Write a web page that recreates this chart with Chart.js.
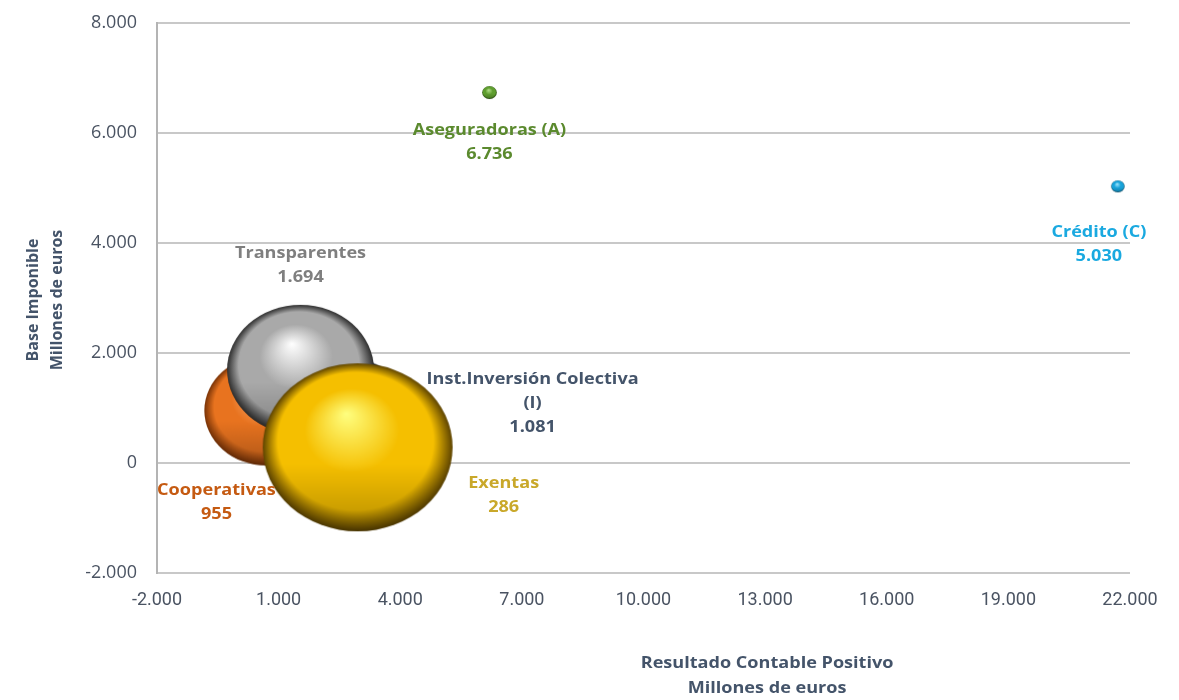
<!DOCTYPE html>
<html>
<head>
<meta charset="utf-8">
<script src="https://cdn.jsdelivr.net/npm/chart.js@4"></script>
<style>
  html, body { margin: 0; padding: 0; background: #fff; }
  #wrap { width: 1179px; height: 700px; }
</style>
</head>
<body>
<div id="wrap"><canvas id="burbujas" width="1179" height="700"></canvas></div>
<script>
// Datos
var categorias = ['Aseguradoras (A)', 'Crédito (C)', 'Inst.Inversión Colectiva (I)', 'Cooperativas', 'Transparentes', 'Exentas'];
var etiquetas = [['Aseguradoras (A)'], ['Crédito (C)'], ['Inst.Inversión Colectiva', '(I)'], ['Cooperativas'], ['Transparentes'], ['Exentas']];
var resultadoContable = [6200, 21700, 2800, 700, 1540, 2950];
var baseImponible = [6736, 5030, 1081, 955, 1694, 286];
var tamano = [6.5, 6, 45, 55, 65, 84];
var ticksX = [-2000, 1000, 4000, 7000, 10000, 13000, 16000, 19000, 22000];
var ticksY = [-2000, 0, 2000, 4000, 6000, 8000];

// Estilo
var colorTexto = ['#5b8a2e', '#1aa9e0', '#44546a', '#c55a11', '#7f7f7f', '#c9a82a'];
var colorEsfera = [
  ['#b5e08a', '#5f9e2f', '#2c5410'],
  ['#a5e8ff', '#17a3da', '#04506f'],
  ['#8797ad', '#44546a', '#1e2633'],
  ['#fbb783', '#e8731f', '#7a3306'],
  ['#ffffff', '#a9a9a9', '#2e2e2e'],
  ['#ffff80', '#f5bf00', '#5e4400']
];
var estirar = 1.13; // la imagen original está algo ensanchada
// desplazamiento de la primera línea de la etiqueta respecto al centro de la burbuja
var offX = [0, -19, 181, -50, 0, 146];
var offY = [38, 46, -24, 80, -116, 36];

function miles(v) {
  var neg = v < 0;
  var s = String(Math.abs(v)).replace(/\B(?=(\d{3})+(?!\d))/g, '.');
  return (neg ? '-' : '') + s;
}

// esfera con brillo, como imagen para pointStyle
function esfera(i) {
  var r = tamano[i];
  var rx = r * estirar;
  var cv = document.createElement('canvas');
  cv.width = Math.ceil(rx * 2) + 2;
  cv.height = Math.ceil(r * 2) + 2;
  var c = cv.getContext('2d');
  c.translate(cv.width / 2, cv.height / 2);
  c.scale(estirar, 1);
  var g = c.createRadialGradient(-0.12 * r, -0.4 * r, 0, 0, 0, r);
  g.addColorStop(0, colorEsfera[i][0]);
  g.addColorStop(0.5, colorEsfera[i][1]);
  g.addColorStop(0.82, colorEsfera[i][1]);
  g.addColorStop(1, colorEsfera[i][2]);
  c.fillStyle = g;
  c.beginPath();
  c.arc(0, 0, r, 0, Math.PI * 2);
  c.fill();
  // sombra inferior
  var s = c.createLinearGradient(0, -r, 0, r);
  s.addColorStop(0, 'rgba(0,0,0,0)');
  s.addColorStop(0.6, 'rgba(0,0,0,0)');
  s.addColorStop(1, 'rgba(0,0,0,0.25)');
  c.fillStyle = s;
  c.beginPath();
  c.arc(0, 0, r, 0, Math.PI * 2);
  c.fill();
  return cv;
}
var imagenes = categorias.map(function (c, i) { return esfera(i); });

var puntos = categorias.map(function (c, i) {
  return { x: resultadoContable[i], y: baseImponible[i], r: tamano[i] };
});

function texto(ctx, t, x, y) {
  ctx.save();
  ctx.translate(x, y);
  ctx.scale(estirar, 1);
  ctx.fillText(t, 0, 0);
  ctx.restore();
}

var etiquetasPlugin = {
  id: 'etiquetas',
  afterDatasetsDraw: function (chart) {
    var ctx = chart.ctx;
    var meta = chart.getDatasetMeta(0);
    ctx.save();
    ctx.font = 'bold 16px "Open Sans", sans-serif';
    ctx.textAlign = 'center';
    ctx.textBaseline = 'middle';
    meta.data.forEach(function (el, i) {
      var lineas = etiquetas[i].concat([miles(baseImponible[i])]);
      ctx.fillStyle = colorTexto[i];
      lineas.forEach(function (t, k) {
        texto(ctx, t, el.x + offX[i], el.y + offY[i] + k * 24);
      });
    });
    // titulos de ejes
    var a = chart.chartArea;
    ctx.fillStyle = '#44546a';
    ctx.font = 'bold 16px "Open Sans", sans-serif';
    var tx = a.left + (a.right - a.left) * 0.627;
    texto(ctx, 'Resultado Contable Positivo', tx, 663);
    texto(ctx, 'Millones de euros', tx, 688);
    ctx.translate(45, 300);
    ctx.rotate(-Math.PI / 2);
    ctx.fillText('Base Imponible', 0, -12);
    ctx.fillText('Millones de euros', 0, 12);
    ctx.restore();
  }
};

var ctx = document.getElementById('burbujas').getContext('2d');
var chart = new Chart(ctx, {
  type: 'bubble',
  data: {
    datasets: [{
      label: 'Base Imponible',
      data: puntos,
      borderWidth: 0,
      backgroundColor: colorEsfera.map(function (c) { return c[1]; }),
      pointStyle: imagenes
    }]
  },
  options: {
    responsive: false,
    animation: false,
    events: [],
    layout: { autoPadding: false, padding: { top: 23, right: 49, left: 0, bottom: 0 } },
    plugins: {
      legend: { display: false },
      tooltip: { enabled: false }
    },
    scales: {
      x: {
        type: 'linear',
        min: -2000,
        max: 22000,
        afterBuildTicks: function (s) { s.ticks = ticksX.map(function (v) { return { value: v }; }); },
        afterFit: function (s) { s.height = 127; s.paddingLeft = 0; s.paddingRight = 0; },
        grid: { display: false, drawTicks: false },
        border: { display: false },
        ticks: {
          padding: 17,
          color: '#4a5362',
          font: { family: '"Roboto", sans-serif', size: 18 },
          callback: function (v) { return miles(v); }
        }
      },
      y: {
        type: 'linear',
        min: -2000,
        max: 8000,
        afterBuildTicks: function (s) { s.ticks = ticksY.map(function (v) { return { value: v }; }); },
        afterFit: function (s) { s.width = 157; s.paddingTop = 0; s.paddingBottom = 0; },
        grid: { color: '#c8c8c8', lineWidth: 2, drawTicks: false },
        border: { display: true, color: '#b4b4b4', width: 2 },
        ticks: {
          padding: 20,
          color: '#4a5362',
          font: { family: '"Open Sans", sans-serif', size: 18 },
          callback: function (v) { return miles(v); }
        }
      }
    }
  },
  plugins: [etiquetasPlugin]
});
</script>
</body>
</html>
